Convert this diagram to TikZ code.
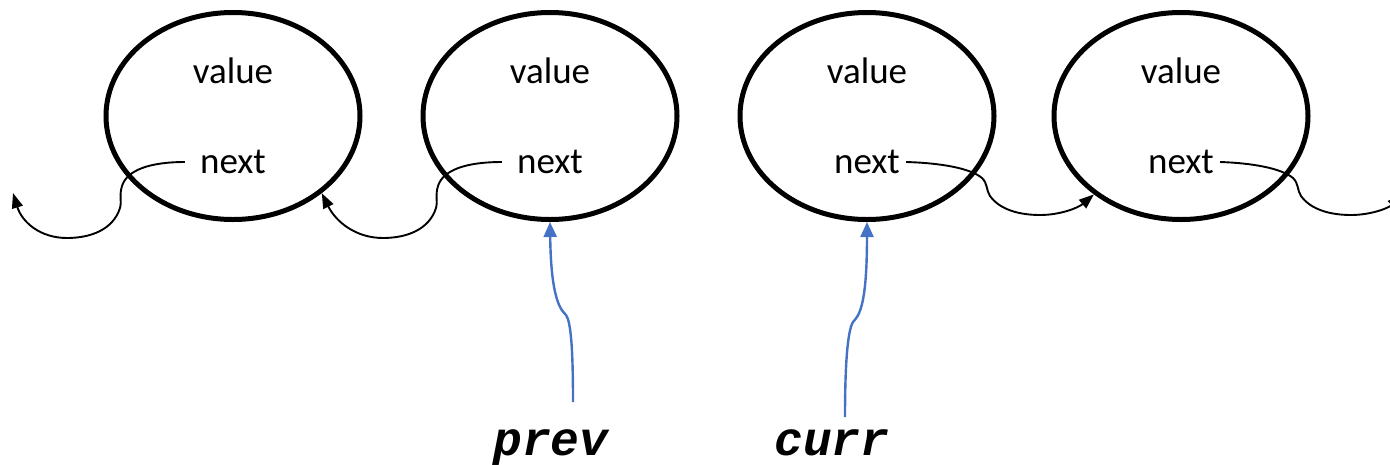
\documentclass[tikz,border=0pt]{standalone}
\usepackage{fontspec}
\setmainfont{Carlito}
\newfontfamily\codefont{Liberation Mono}
\usetikzlibrary{shapes.geometric,arrows.meta}
\definecolor{ptrblue}{RGB}{68,114,196}
\begin{document}
\begin{tikzpicture}[x=1pt,y=-1pt,
  listnode/.style={ellipse,draw,line width=5pt,minimum width=254pt,minimum height=207pt,inner sep=0pt},
  field/.style={font=\fontsize{37}{40}\selectfont,inner sep=0pt},
  conn/.style={line width=1.9pt,-{Triangle[length=15pt,width=11pt]}},
  ptr/.style={line width=2.4pt,ptrblue,-{Triangle[length=15pt,width=13pt]}},
  ptrname/.style={font=\codefont\bfseries\itshape\fontsize{48}{52}\selectfont,anchor=base,inner sep=0pt}]
\useasboundingbox (0,0) rectangle (1390,464);
\clip (0,0) rectangle (1390,464);

% list nodes
\node[listnode] (e1) at (233,116) {};
\node[listnode] (e2) at (550,116) {};
\node[listnode] (e3) at (867,116) {};
\node[listnode] (e4) at (1181,116) {};

% fields (node anchors are shifted in canvas units: up is positive)
\foreach \i in {1,2,3,4}{
  \node[field] (v\i) at ([yshift=45pt]e\i.center) {value};
  \node[field] (n\i) at ([yshift=-46pt]e\i.center) {next};
}

% free ends of the outer links
\coordinate (lend) at (13,193);
\coordinate (rend) at (1402,194);

% reversed links (pointing left)
\draw[conn] ([xshift=-15pt]n1.west) .. controls (150,162) and (127,170) .. (122,186)
  .. controls (119,196) and (122,200) .. (120,208)
  .. controls (113,230) and (90,238) .. (67,238)
  .. controls (40,238) and (22,222) .. (lend);
\draw[conn] ([xshift=-15pt]n2.west) .. controls (466,162) and (443,170) .. (438,186)
  .. controls (435,196) and (438,200) .. (436,208)
  .. controls (429,230) and (406,238) .. (383,238)
  .. controls (356,238) and (336,222) .. (e1.-41);

% forward links (pointing right)
\draw[conn] ([xshift=6pt]n3.east) .. controls (940,163) and (970,168) .. (982,178)
  .. controls (988,184) and (986,190) .. (990,196)
  .. controls (1000,210) and (1020,215) .. (1040,215)
  .. controls (1060,215) and (1078,208) .. (e4.-138);
\draw[conn] ([xshift=6pt]n4.east) .. controls (1251,163) and (1281,168) .. (1293,178)
  .. controls (1299,184) and (1297,190) .. (1301,196)
  .. controls (1311,210) and (1331,215) .. (1351,215)
  .. controls (1371,215) and (1389,208) .. (rend);

% pointer names
\node[ptrname] (prev) at (551,455) {prev};
\node[ptrname] (curr) at (832,455) {curr};
\coordinate (pstart) at (573,402);
\coordinate (cstart) at (845,417);

% pointers
\draw[ptr] (pstart) .. controls (573,350) and (571,322) .. (566,315)
  .. controls (561,310) and (551,300) .. (e2.south);
\draw[ptr] (cstart) .. controls (845,360) and (848,330) .. (853,322)
  .. controls (858,316) and (867,310) .. (e3.south);
\end{tikzpicture}
\end{document}
